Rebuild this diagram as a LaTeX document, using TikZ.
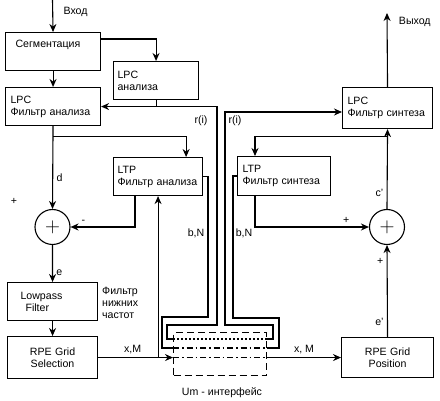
\documentclass[tikz,border=0pt]{standalone}
\usepackage{fontspec}
\setmainfont{Liberation Sans}
\usetikzlibrary{arrows.meta}

\tikzset{
  blk/.style={draw, line width=1.1pt, anchor=north west, align=left, inner xsep=5pt, inner ysep=2pt},
  sum/.style={draw, circle, line width=1.1pt, minimum size=35pt, inner sep=0pt},
  wire/.style={line width=1.1pt},
  sig/.style={line width=1.1pt, -{Stealth[length=8pt,width=7pt]}},
  dotline/.style={line width=1.1pt, dash pattern=on 2pt off 2pt},
  dashdotline/.style={line width=1.1pt, dash pattern=on 6pt off 3pt on 1.5pt off 3pt},
}

\begin{document}
\begin{tikzpicture}[x=1pt, y=-1pt, font=\fontsize{10.6}{12}\selectfont]
\useasboundingbox (0,0) rectangle (440,401);

\node[blk, text width=85pt, minimum height=38pt, text depth=16pt] (seg) at (5,32) {\hspace*{5pt}Сегментация};
\node[blk, text width=77pt, minimum height=38pt, inner xsep=4pt] (lpca) at (113,61) {LPC\\анализа};
\node[blk, text width=85pt, minimum height=38pt] (lpcf) at (5,87) {LPC\\Фильтр анализа};
\node[blk, text width=81pt, minimum height=38pt, inner xsep=4pt] (ltpa) at (113,157) {LTP\\Фильтр анализа};
\node[sum] (add1) at (52.5,227) {\fontsize{22}{22}\selectfont$+$};
\node[blk, text width=80pt, minimum height=38pt] (lowp) at (7,282) {\hspace*{8pt}Lowpass\\\hspace*{13pt}Filter};
\node[blk, text width=80pt, minimum height=42pt, align=center] (rpes) at (7,336) {RPE Grid\\Selection};

\node[blk, text width=80pt, minimum height=41pt] (lpcs) at (342,87) {LPC\\Фильтр синтеза};
\node[blk, text width=83pt, minimum height=39pt] (ltps) at (237,156) {LTP\\Фильтр синтеза};
\node[sum] (add2) at (387,227) {\fontsize{22}{22}\selectfont$+$};
\node[blk, text width=82pt, minimum height=40pt, align=center] (rpep) at (341,337) {RPE Grid\\Position};

\node[draw, line width=1.1pt, dash pattern=on 7pt off 4pt, anchor=north west, minimum width=93pt, minimum height=43pt, inner sep=0pt] (um) at (173,332) {};

\node[anchor=west, align=left, inner sep=0pt] (lpnote) at (102,303) {Фильтр\\нижних\\частот};
\node (umtxt) at (222,393) {Um - интерфейс};
\node (ril) at (201,121) {r(i)};
\node (rir) at (235,121) {r(i)};
\node (bnl) at (196,233) {b,N};
\node (bnr) at (244,233) {b,N};
\node (pl) at (14,201) {+};

\coordinate (in) at (52.5,0);
\coordinate (out) at (387,13);
\coordinate (r1) at (217,325);
\coordinate (r2) at (167,339);
\coordinate (r3) at (273,325);
\coordinate (r4) at (225,112);
\coordinate (b1) at (208,317);
\coordinate (b2) at (162,348);
\coordinate (b3) at (279,318);

\path[draw,sig] (in) -- node[right, pos=0.375, xshift=7pt] (vin) {Вход} (seg.north);
\path[draw,sig] ([yshift=-7pt]seg.north east) -| (lpca.north);
\path[draw,sig] (seg.south) -- (lpcf.north);
\path[draw,sig] (lpca.south) |- (lpcf.east);
\path[draw,sig] (lpcf.south) -- node[right, pos=0.62] (dl) {d} (add1.north);
\path[draw,sig] ([yshift=-10pt]lpcf.south) -| ([xshift=-17pt]ltpa.north east);
\path[draw,sig] ([xshift=22pt]ltpa.south west) |- node[above, pos=0.9] (ml) {-} (add1.east);
\path[draw,sig] (add1.south) -- node[right, pos=0.75] (el) {e} (lowp.north);
\path[draw,sig] (lowp.south) -- (rpes.north);
\path[draw,sig] (rpes.east) -- node[above, pos=0.46] (xml) {x,M} (um.west |- rpes.east);
\path[draw,sig] (ltpa.south |- rpes.east) -- (ltpa.south);

\path[draw,wire] (lpca.south |- lpcf.east) -| (r1) -| (r2) -- (um.west |- r2);
\path[draw,dotline] (um.west |- r2) -- (um.east |- r2);
\path[draw,sig] (um.east |- r2) -| (r3) -| (r4) -- (r4 -| lpcs.west);
\path[draw,wire] (ltpa.east) -| (b1) -| (b2) -- (um.west |- b2);
\path[draw,dashdotline] (um.west |- b2) -- (um.east |- b2);
\path[draw,wire] (um.east |- b2) -| (b3) -| ([xshift=-4pt]ltps.west) -- (ltps.west);
\path[draw,dashdotline] (um.west |- rpes.east) -- (um.east |- rpes.east);
\path[draw,sig] (um.east |- rpes.east) -- node[above, pos=0.5] (xmr) {x, M} (rpep.west);

\path[draw,sig] (rpep.north) -- node[left, pos=0.16] (epl) {e'} node[left, pos=0.82] (ppl) {+} (add2.south);
\path[draw,sig] (add2.north) -- node[left, pos=0.2] (cl) {c'} (lpcs.south);
\path[draw,sig] ([yshift=-7pt]lpcs.south) -| ([xshift=18pt]ltps.north west);
\path[draw,sig] ([xshift=18pt]ltps.south west) |- node[above, pos=0.9] (pr) {+} (add2.west);
\path[draw,sig] (lpcs.north) -- node[right, pos=0.88, xshift=8pt] (vout) {Выход} (out);
\end{tikzpicture}
\end{document}
